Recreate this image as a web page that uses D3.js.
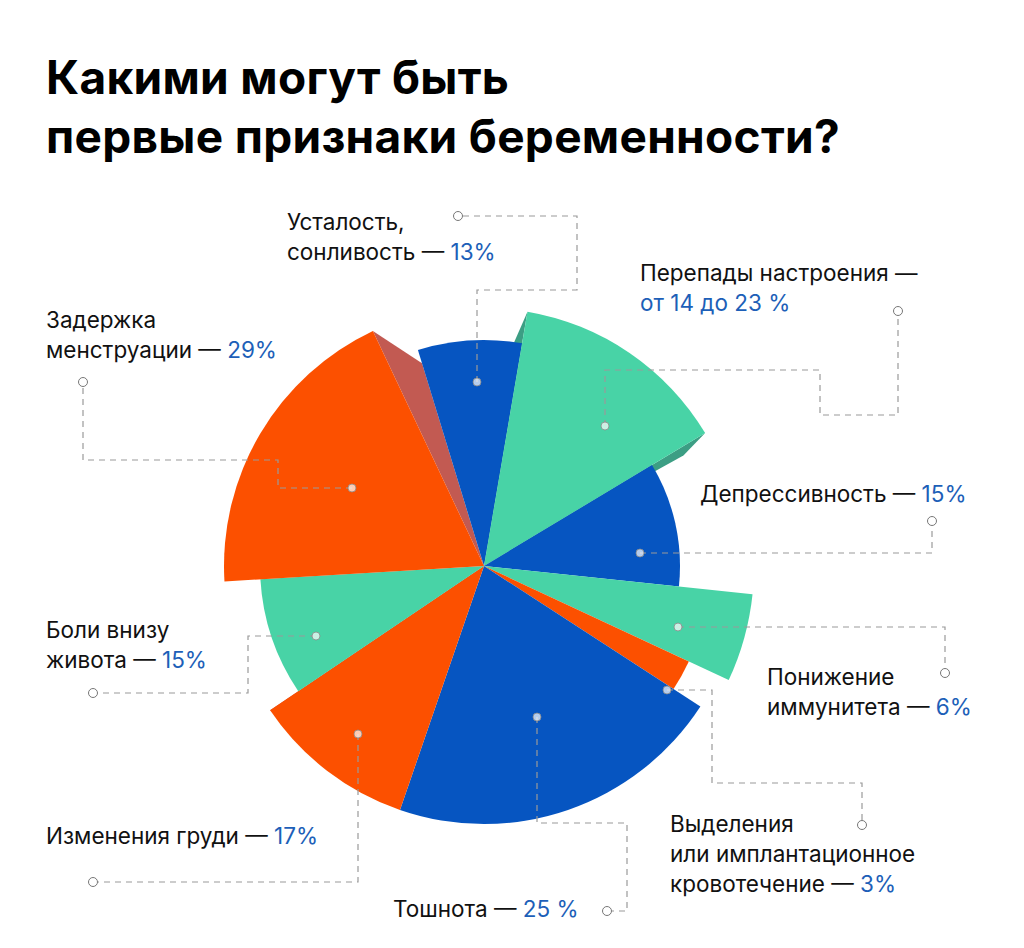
<!DOCTYPE html>
<html><head><meta charset="utf-8">
<script src="https://cdn.jsdelivr.net/npm/d3@7"></script>
<style>body{margin:0;background:#fff}text{font-family:Inter,"Noto Sans",sans-serif}</style>
</head><body><svg id="c" width="1024" height="948"></svg>
<script>
const categories=["Усталость","Перепады настроения","Депрессивность","Понижение иммунитета","Выделения","Тошнота","Изменения груди","Боли внизу живота","Задержка менструации"];
const values=[13,23,15,6,3,25,17,15,29];
const startDeg=[-17,9.7,59,96,115,123,199,236,266.6];
const endDeg=[9.7,59,96,115,123,199,236,266.6,334.7];
const radii=[226,258,196,270,226,258,258,224,260];
const colors=["#0655c1","#48d3a6","#0655c1","#48d3a6","#fc5000","#0655c1","#fc5000","#48d3a6","#fc5000"];
const labelLines=[
 [["Усталость,",""],["сонливость — ","13%"]],
 [["Перепады настроения —",""],["","от 14 до 23 %"]],
 [["Депрессивность — ","15%"]],
 [["Понижение",""],["иммунитета — ","6%"]],
 [["Выделения",""],["или имплантационное",""],["кровотечение — ","3%"]],
 [["Тошнота — ","25 %"]],
 [["Изменения груди — ","17%"]],
 [["Боли внизу",""],["живота — ","15%"]],
 [["Задержка",""],["менструации — ","29%"]]
];
const labelPos=[[287,230],[640,281],[700,502],[767,685],[670,832],[393,917],[46,844],[46,638],[46,328]];
const leaders=[
 [[477,382],[477,290],[577,290],[577,216],[463,216]],
 [[605,426],[605,370],[820,370],[820,415],[898,415],[898,316]],
 [[640,553],[932,553],[932,526]],
 [[678,627],[945,627],[945,668]],
 [[667,690],[712,690],[712,783],[862,783],[862,820]],
 [[537,717],[537,823],[627,823],[627,911],[612,911]],
 [[358,734],[358,882],[98,882]],
 [[316,636],[248,636],[248,693],[98,693]],
 [[352,488],[278,488],[278,460],[83,460],[83,387]]
];
const ends=[[458,216],[898,311],[932,521],[945,673],[862,825],[607,911],[93,882],[93,693],[83,382]];
const svg=d3.select("#c");
svg.append("text").attr("x",46).attr("y",94).attr("font-size",46).attr("font-weight",700).attr("letter-spacing",0.3).text("Какими могут быть");
svg.append("text").attr("x",46).attr("y",153).attr("font-size",46).attr("font-weight",700).attr("letter-spacing",0.3).text("первые признаки беременности?");
const cx=484,cy=566,rad=Math.PI/180;
const g=svg.append("g").attr("transform",`translate(${cx},${cy})`);
const pt=(a,r)=>[r*Math.sin(a*rad),-r*Math.cos(a*rad)];
g.append("path").attr("fill","#c25a52").attr("d",d3.line()([[0,0],pt(endDeg[8],radii[8]),pt(startDeg[0],radii[0]-14)]));
g.append("path").attr("fill","#3c9e84").attr("d",d3.line()([[0,0],pt(startDeg[1],radii[1]),pt(startDeg[1]-2,radii[0])]));
g.append("path").attr("fill","#c25a52").attr("d",d3.line()([[0,0],pt(endDeg[6],radii[6]),pt(endDeg[6]-3,radii[5]-5)]));
g.append("path").attr("fill","#3c9e84").attr("d",d3.line()([[0,0],pt(endDeg[1],radii[1]),pt(endDeg[1]+2,radii[1]-30)]));
const arc=d3.arc().innerRadius(0);
g.selectAll("path.s").data(values).join("path").attr("class","s")
 .attr("fill",(d,i)=>colors[i])
 .attr("d",(d,i)=>arc({startAngle:startDeg[i]*rad,endAngle:endDeg[i]*rad,outerRadius:radii[i]}));
const line=d3.line();
leaders.forEach((L,i)=>{
 svg.append("path").attr("d",line(L)).attr("fill","none").attr("stroke","#9a9a9a").attr("stroke-width",1.2).attr("stroke-dasharray","6,5");
 svg.append("circle").attr("cx",L[0][0]).attr("cy",L[0][1]).attr("r",4).attr("fill","#ffffff").attr("fill-opacity",0.7).attr("stroke","#888").attr("stroke-width",0.8);
 svg.append("circle").attr("cx",ends[i][0]).attr("cy",ends[i][1]).attr("r",4.5).attr("fill","#fff").attr("stroke","#777").attr("stroke-width",1);
});
labelLines.forEach((ls,i)=>{
 ls.forEach((l,j)=>{
  const t=svg.append("text").attr("x",labelPos[i][0]).attr("y",labelPos[i][1]+j*30).attr("font-size",22.5).attr("fill","#111");
  t.append("tspan").text(l[0]);
  if(l[1]) t.append("tspan").attr("fill","#1d5fb8").text(l[1]);
 });
});
</script></body></html>
